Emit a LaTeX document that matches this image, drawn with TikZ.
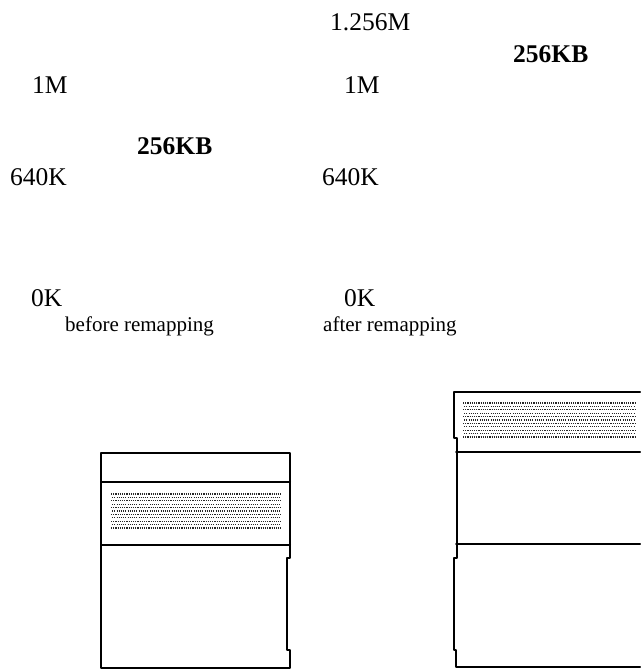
\documentclass[tikz,border=0pt]{standalone}
\usepackage{fontspec}
\setmainfont{Liberation Serif}
\begin{document}
\begin{tikzpicture}[x=1pt,y=-1pt,line cap=round,line join=round,
  lbl/.style={anchor=base west,inner sep=0pt,font=\fontsize{25.5}{30}\selectfont},
  captext/.style={anchor=base west,inner sep=0pt,font=\fontsize{21}{25}\selectfont},
  edge/.style={line width=2pt},
  dots/.style={black!85,line width=1.3pt,line cap=butt,dash pattern=on 1.1pt off 1.1pt}]
  \useasboundingbox (0,0) rectangle (640,669);
  % address labels
  \node[lbl] (top) at (330,31) {1.256M};
  \node[lbl] (kbR) at (513,63) {\textbf{256KB}};
  \node[lbl] (mL) at (32,93) {1M};
  \node[lbl] (mR) at (344,93) {1M};
  \node[lbl] (kbL) at (137,154) {\textbf{256KB}};
  \node[lbl] (kL) at (10,185) {640K};
  \node[lbl] (kR) at (322,185) {640K};
  \node[lbl] (zL) at (31,306) {0K};
  \node[lbl] (zR) at (344,306) {0K};
  \node[captext] (before) at (65,331) {before remapping};
  \node[captext] (after) at (323,331) {after remapping};
  % before remapping
  \begin{scope}[shift={(101,453)}]
    \draw[edge] (189,0) -- (0,0) -- (0,215) -- (189,215) -- (189,197)
      -- (186,197) -- (186,105) -- (189,105) -- cycle;
    \draw[edge] (0,29) -- (189,29);
    \draw[edge] (0,92) -- (189,92);
    \foreach \r [evaluate=\r as \ph using {1.1*mod(\r,2)}] in {0,...,10}
      \draw[dots,dash phase=\ph pt] (10,{41+3.4*\r}) -- (180,{41+3.4*\r});
  \end{scope}
  % after remapping
  \begin{scope}[shift={(454,392)}]
    \draw[edge] (186,0) -- (0,0) -- (0,46) -- (3,46) -- (3,166) -- (0,166)
      -- (0,258) -- (2,258) -- (2,275) -- (186,275);
    \draw[edge] (2,60) -- (186,60);
    \draw[edge] (2,152) -- (186,152);
    \foreach \r [evaluate=\r as \ph using {1.1*mod(\r,2)}] in {0,...,10}
      \draw[dots,dash phase=\ph pt] (9,{11+3.4*\r}) -- (181,{11+3.4*\r});
  \end{scope}
\end{tikzpicture}
\end{document}
